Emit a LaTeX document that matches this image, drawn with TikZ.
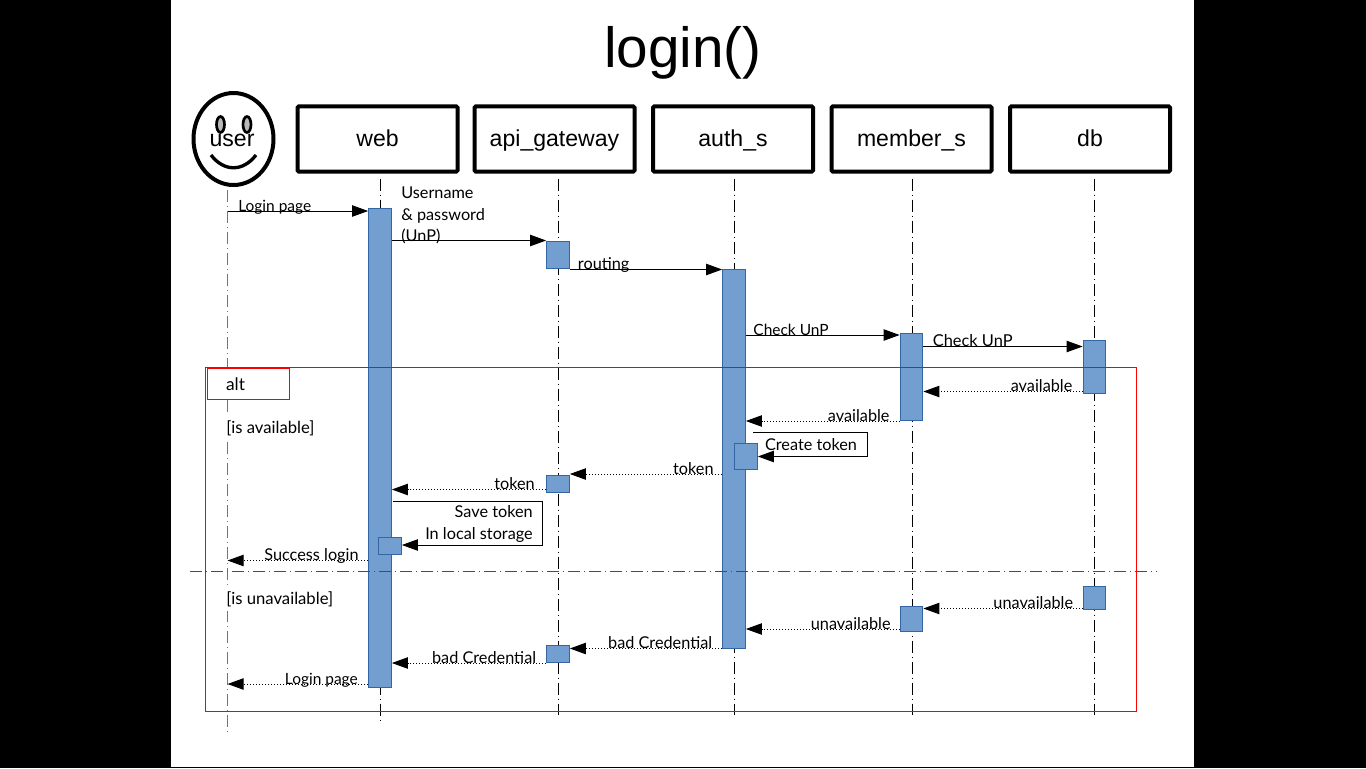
\documentclass[tikz,border=0pt]{standalone}
\usepackage{fontspec}
\setmainfont{Liberation Sans}
\newfontfamily\notefont{Lato}
\usetikzlibrary{arrows.meta,shapes.geometric}
\definecolor{actfill}{HTML}{729FCF}
\definecolor{actline}{HTML}{3465A4}

\begin{document}
\begin{tikzpicture}[x=0.75pt, y=-0.75pt,
  >={Triangle[length=12pt,width=8.5pt]},
  every node/.append style={align=center},
  head/.style={draw, line width=3pt, rounded corners=1pt, minimum width=120pt, minimum height=49pt, text height=14.5pt, text depth=2.6pt, font=\fontsize{17.3}{20}\selectfont},
  lifeline/.style={line width=0.75pt, dash pattern=on 9pt off 3pt on 0.75pt off 3pt},
  act/.style={draw=actline, fill=actfill, line width=0.75pt, minimum width=17pt, inner sep=0pt},
  msg/.style={->, line width=0.75pt},
  reply/.style={->, line width=0.75pt, dash pattern=on 0.75pt off 1.5pt},
  note/.style={font=\notefont\fontsize{12.2}{16}\selectfont, inner sep=0pt},
  msgtext/.style={note, anchor=base},
  guard/.style={note, font=\notefont\fontsize{12.5}{16}\selectfont, fill=white, anchor=west, inner ysep=3pt},
  frameline/.style={red, line width=0.75pt}]
 % page
 \fill[black] (0,0) rectangle (1366,768);
 \fill[white] (171,0) rectangle (1194,767);
 \path[use as bounding box] (0,0) rectangle (1366,768);
 \node (title) at (683,53) {\fontsize{42.5}{48}\selectfont login()};

 % heads
 \node [draw, ellipse, line width=3pt, minimum width=60pt, minimum height=69pt, inner sep=0pt] (user) at (233.5,139) {};
 \draw[line width=2pt, fill=gray!55] (220.5,124.5) ellipse [x radius=4, y radius=8];
 \draw[line width=2pt, fill=gray!55] (247,124.5) ellipse [x radius=4, y radius=8];
 \draw[line width=2.5pt] (211,155) .. controls (224,172) and (243,172) .. (256,155);
 \node [font=\fontsize{17.3}{20}\selectfont] (usertext) at (232,140) {user};
 \node [head] (web) at (377.5,139) {web};
 \node [head] (api) at (554.5,139) {api\_gateway};
 \node [head] (auth) at (733,139) {auth\_s};
 \node [head] (member) at (911.5,139) {member\_s};
 \node [head] (db) at (1090,139) {db};

 % lifelines
 \coordinate (userEnd) at (227.5,732);
 \coordinate (webEnd) at (380,722);
 \coordinate (apiEnd) at (558.5,715);
 \coordinate (authEnd) at (734,715);
 \coordinate (memberEnd) at (912,715);
 \coordinate (dbEnd) at (1094,715);
 \draw[lifeline, black!55] (user.south -| userEnd) ++(0,3) -- (userEnd);
 \draw[lifeline] (web.south -| webEnd) ++(0,5) -- (webEnd);
 \draw[lifeline] (api.south -| apiEnd) ++(0,5) -- (apiEnd);
 \draw[lifeline] (auth.south -| authEnd) ++(0,5) -- (authEnd);
 \draw[lifeline] (member.south -| memberEnd) ++(0,5) -- (memberEnd);
 \draw[lifeline] (db.south -| dbEnd) ++(0,5) -- (dbEnd);

 % activations
 \node [act, minimum height=359.25pt] (webMain) at (380,447.5) {};
 \node [act, minimum height=20.6pt] (apiA) at (558,254.75) {};
 \node [act, minimum height=284.6pt] (authMain) at (734,459.25) {};
 \node [act, minimum height=65.25pt] (memberA) at (911.5,376.5) {};
 \node [act, minimum height=39.75pt] (dbA) at (1094.5,366.5) {};
 \node [act, minimum height=19.5pt] (authB) at (746,456.5) {};
 \node [act, minimum height=13.1pt] (apiB) at (558,483.75) {};
 \node [act, minimum height=12.75pt] (webB) at (390,546) {};
 \node [act, minimum height=17.6pt] (dbB) at (1094.5,598.25) {};
 \node [act, minimum height=18.4pt] (memberB) at (911.5,618.75) {};
 \node [act, minimum height=13.1pt] (apiC) at (558,654) {};

 % calls
 \draw[msg] (userEnd |- 0,211) -- node[msgtext, pos=.336, font=\notefont\fontsize{11.6}{16}\selectfont] {Login page} (webMain.west |- 0,211);
 \draw[msg] (webMain.east |- 0,240.5) -- (apiA.west |- 0,240.5);
 \node[note, align=left, anchor=north west] (unp) at (401,187) {Username\\\& password\\(UnP)};
 \draw[msg] (apiA.east |- 0,269.5) -- node[msgtext, pos=.222] {routing} (authMain.west |- 0,269.5);
 \draw[msg] (authMain.east |- 0,335) -- node[msgtext, pos=.294, font=\notefont\fontsize{11.6}{16}\selectfont] {Check UnP} (memberA.west |- 0,335);
 \draw[msg] (memberA.east |- 0,346.5) -- node[msgtext, pos=.31, font=\notefont\fontsize{12.3}{16}\selectfont] {Check UnP} (dbA.west |- 0,346.5);

 % replies, available
 \draw[reply] (dbA.west |- 0,391.5) -- node[msgtext, pos=.258] {available} (memberA.east |- 0,391.5);
 \draw[reply] (memberA.west |- 0,421) -- node[msgtext, pos=.266] {available} (authMain.east |- 0,421);
 \draw[msg] (753,432) -| (867,456.5) -- (authB.east);
 \node[note] (createtoken) at (811,444.5) {Create token};
 \draw[reply] (authMain.west |- 0,474) -- node[msgtext, pos=.189] {token} (apiB.east |- 0,474);
 \draw[reply] (apiB.west |- 0,489.5) -- node[msgtext, pos=.205] {token} (webMain.east |- 0,489.5);
 \draw[msg] (393,501) -| (542,545) -- (webB.east |- 0,545);
 \node[note, align=right, anchor=east] (savetoken) at (533,524) {Save token\\In local storage};
 \draw[reply] (webMain.west |- 0,560.5) -- node[msgtext, pos=.403] {Success login} (userEnd |- 0,560.5);

 % replies, unavailable
 \draw[reply] (dbB.west |- 0,608.5) -- node[msgtext, pos=.31] {unavailable} (memberB.east |- 0,608.5);
 \draw[reply] (memberB.west |- 0,629) -- node[msgtext, pos=.318] {unavailable} (authMain.east |- 0,629);
 \draw[reply] (authMain.west |- 0,648.5) -- node[msgtext, pos=.407] {bad Credential} (apiC.east |- 0,648.5);
 \draw[reply] (apiC.west |- 0,663) -- node[msgtext, pos=.402] {bad Credential} (webMain.east |- 0,663);
 \draw[reply] (webMain.west |- 0,684) -- node[msgtext, pos=.333, font=\notefont\fontsize{11.6}{16}\selectfont] {Login page} (userEnd |- 0,684);

 % alt frame
 \draw[frameline] (205.5,367.5) rectangle (1136.5,711.5);
 \draw[frameline, dash pattern=on 9pt off 3pt on 0.75pt off 3pt] (190,571.5) -- (1157,571.5);
 \node[draw=red, fill=white, line width=0.75pt, minimum width=61.5pt, minimum height=23.5pt, note, font=\notefont\fontsize{13}{16}\selectfont] (alt) at (248.25,384) {\hspace*{-19pt}alt};
 \node[guard] (isavail) at (226,428) {[is available]};
 \node[guard] (isunavail) at (226,599) {[is unavailable]};
\end{tikzpicture}
\end{document}
